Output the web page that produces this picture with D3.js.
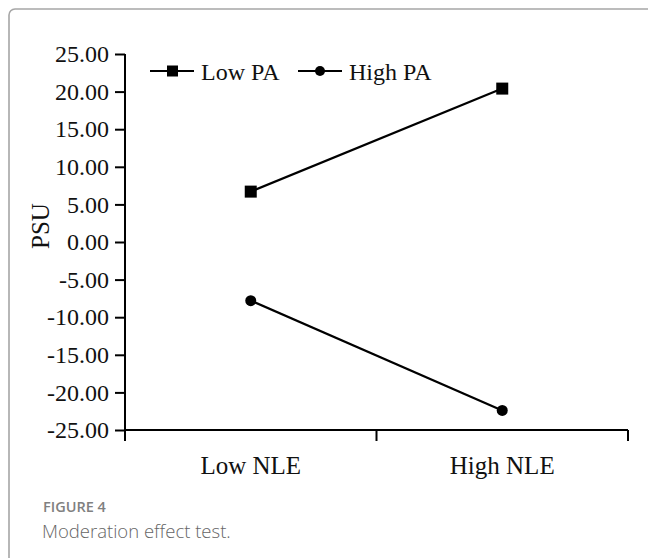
<!DOCTYPE html>
<meta charset="utf-8">
<style>
  body { margin: 0; background: #fff; }
  .tick text { font-family: "Liberation Serif", "Times New Roman", serif; fill: #111; }
</style>
<body>
<script src="https://d3js.org/d3.v7.min.js"></script>
<script>

// Chart data
var groups = ["Low NLE", "High NLE"];
var seriesNames = ["Low PA", "High PA"];
var lowPA = [6.7, 20.4];
var highPA = [-7.8, -22.4];
var yTicks = [-25, -20, -15, -10, -5, 0, 5, 10, 15, 20, 25];

var W = 648, H = 558;
var margin = {top: 54, left: 125, right: 20, bottom: 128};
var plotW = 628 - margin.left,
    plotH = 430 - margin.top;

var svg = d3.select("body").append("svg")
    .attr("width", W)
    .attr("height", H);

// panel frame (rounded, runs off the right and bottom edges)
svg.append("rect")
    .attr("x", 9).attr("y", 9)
    .attr("width", 700).attr("height", 700)
    .attr("rx", 6)
    .attr("fill", "none")
    .attr("stroke", "#a6a6a6")
    .attr("stroke-width", 1.6);

var g = svg.append("g")
    .attr("transform", "translate(" + margin.left + "," + margin.top + ")");

var x = d3.scaleBand().domain(groups).range([0, plotW]).padding(0);
var y = d3.scaleLinear().domain([-25, 25]).range([plotH, 0]);

// y axis (plain hyphen for negatives, like the original)
var yAxis = g.append("g")
    .call(d3.axisLeft(y).tickValues(yTicks).tickSize(10).tickPadding(6)
      .tickFormat(function(d) { return d.toFixed(2); }));
yAxis.selectAll("text").style("font-size", "24px");
yAxis.selectAll("line").attr("stroke", "#000").attr("stroke-width", 2);
yAxis.select(".domain").remove();
g.append("line")
    .attr("x1", 0).attr("x2", 0)
    .attr("y1", 0).attr("y2", plotH + 11)
    .attr("stroke", "#000").attr("stroke-width", 2);

// x axis: ticks at band boundaries
g.append("line")
    .attr("x1", 0).attr("x2", plotW)
    .attr("y1", plotH).attr("y2", plotH)
    .attr("stroke", "#000").attr("stroke-width", 2);
var bounds = groups.map(function(d) { return x(d); }).concat([plotW]);
g.selectAll(".xtick")
    .data(bounds.slice(1))
  .enter().append("line")
    .attr("x1", function(d) { return d; })
    .attr("x2", function(d) { return d; })
    .attr("y1", plotH).attr("y2", plotH + 11)
    .attr("stroke", "#000").attr("stroke-width", 2);
g.selectAll(".xlab")
    .data(groups)
  .enter().append("text")
    .attr("x", function(d) { return x(d) + x.bandwidth() / 2; })
    .attr("y", plotH + 44)
    .attr("text-anchor", "middle")
    .style("font-family", "Liberation Serif, serif")
    .style("font-size", "25px")
    .attr("fill", "#111")
    .text(function(d) { return d; });

// y label
svg.append("text")
    .attr("transform", "translate(49,226) rotate(-90)")
    .attr("text-anchor", "middle")
    .style("font-family", "Liberation Serif, serif")
    .style("font-size", "25px")
    .attr("fill", "#111")
    .text("PSU");

// lines and markers
var cx = function(d, i) { return x(groups[i]) + x.bandwidth() / 2; };
var line = d3.line()
    .x(function(d, i) { return cx(d, i); })
    .y(function(d) { return y(d); });

[lowPA, highPA].forEach(function(vals, s) {
  g.append("path")
      .datum(vals)
      .attr("d", line)
      .attr("fill", "none")
      .attr("stroke", "#000")
      .attr("stroke-width", 2.2);
  if (s === 0) {
    g.selectAll(".sq")
        .data(vals)
      .enter().append("rect")
        .attr("x", function(d, i) { return cx(d, i) - 6; })
        .attr("y", function(d) { return y(d) - 6; })
        .attr("width", 12).attr("height", 12)
        .attr("fill", "#000");
  } else {
    g.selectAll(".dot")
        .data(vals)
      .enter().append("circle")
        .attr("cx", function(d, i) { return cx(d, i); })
        .attr("cy", function(d) { return y(d); })
        .attr("r", 5.5)
        .attr("fill", "#000");
  }
});

// legend
var legend = svg.append("g").attr("transform", "translate(150,71)");
var legX = [0, 148];
seriesNames.forEach(function(name, i) {
  var lg = legend.append("g").attr("transform", "translate(" + legX[i] + ",0)");
  lg.append("line").attr("x1", 0).attr("x2", 44).attr("y1", 0).attr("y2", 0)
      .attr("stroke", "#000").attr("stroke-width", 2);
  if (i === 0) {
    lg.append("rect").attr("x", 17).attr("y", -5.5).attr("width", 11).attr("height", 11).attr("fill", "#000");
  } else {
    lg.append("circle").attr("cx", 22).attr("cy", 0).attr("r", 5).attr("fill", "#000");
  }
  lg.append("text")
      .attr("x", 51).attr("y", 9)
      .style("font-family", "Liberation Serif, serif")
      .style("font-size", "24px")
      .attr("fill", "#111")
      .text(name);
});

// caption
svg.append("text")
    .attr("x", 43).attr("y", 512)
    .style("font-family", "Open Sans, sans-serif")
    .style("font-size", "14.5px")
    .style("font-weight", "600")
    .attr("fill", "#808080")
    .text("FIGURE 4");
svg.append("text")
    .attr("x", 42).attr("y", 538)
    .style("font-family", "Open Sans, sans-serif")
    .style("font-size", "18.5px")
    .style("font-weight", "300")
    .attr("fill", "#666")
    .text("Moderation effect test.");

</script>
